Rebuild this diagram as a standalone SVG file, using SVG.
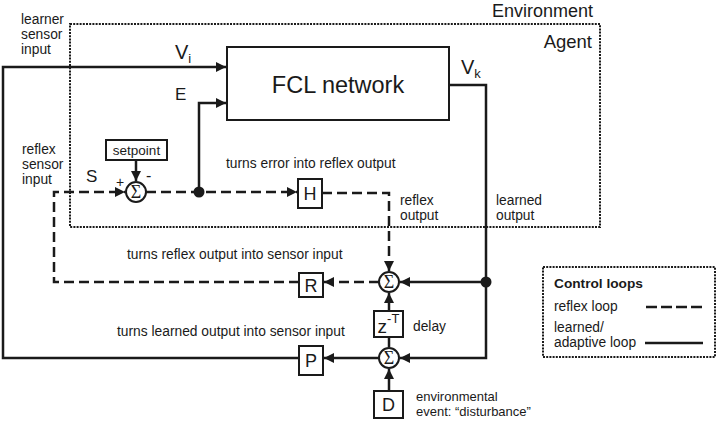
<svg xmlns="http://www.w3.org/2000/svg" width="718" height="421" viewBox="0 0 718 421">
<defs>
<marker id="ar" viewBox="0 0 10 10" refX="10" refY="5" markerWidth="11" markerHeight="10" markerUnits="userSpaceOnUse" orient="auto">
<path d="M0,0 L10,5 L0,10 z" fill="#1a1a1a"/>
</marker>
<style>
text{font-family:"Liberation Sans",Arial,sans-serif;fill:#1a1a1a}
.s{font-size:13.8px}
.dot{fill:none;stroke:#1a1a1a;stroke-width:2;stroke-dasharray:2 1.2}
.box{fill:#fff;stroke:#1a1a1a;stroke-width:2}
.ln{fill:none;stroke:#1a1a1a;stroke-width:2.5}
.da{fill:none;stroke:#1a1a1a;stroke-width:2.5;stroke-dasharray:10 5}
.sig{font-family:"Liberation Serif","Times New Roman",serif;font-size:18px;text-anchor:middle}
.bl{font-size:18px;text-anchor:middle}
</style>
</defs>
<rect width="718" height="421" fill="#fff"/>
<g id="environment">
<text x="593" y="17" font-size="18" text-anchor="end">Environment</text>
<rect id="agent-box" class="dot" x="70" y="24" width="530" height="203"/>
<text x="592" y="48" font-size="18.5" text-anchor="end">Agent</text>
</g>
<g id="labels">
<text class="s" x="21" y="24">learner</text>
<text class="s" x="21" y="39">sensor</text>
<text class="s" x="21" y="54">input</text>
<text class="s" x="22" y="154">reflex</text>
<text class="s" x="22" y="169">sensor</text>
<text class="s" x="22" y="184">input</text>
<text x="175" y="59" font-size="20">V<tspan font-size="13" dy="4">i</tspan></text>
<text x="175" y="100" font-size="17">E</text>
<text x="461" y="74" font-size="20">V<tspan font-size="13" dy="4">k</tspan></text>
<text x="86" y="182" font-size="17">S</text>
<text x="116" y="187" font-size="14">+</text>
<text x="146" y="181" font-size="16">-</text>
<text class="s" x="226" y="168">turns error into reflex output</text>
<text class="s" x="400" y="205">reflex</text>
<text class="s" x="400" y="220">output</text>
<text class="s" x="496" y="205">learned</text>
<text class="s" x="496" y="220">output</text>
<text class="s" x="127" y="259">turns reflex output into sensor input</text>
<text class="s" x="117" y="336">turns learned output into sensor input</text>
<text class="s" x="413" y="331">delay</text>
<text x="416" y="401" font-size="13">environmental</text>
<text x="416" y="416" font-size="13">event: “disturbance”</text>
</g>
<g id="connectors">
<path class="ln" d="M299,358 H3 V67 H226" marker-end="url(#ar)"/>
<path class="ln" d="M199,192 V103 H226" marker-end="url(#ar)"/>
<path class="ln" d="M449,85 H486 V358 H400" marker-end="url(#ar)"/>
<path class="ln" d="M486,282 H400" marker-end="url(#ar)"/>
<path class="ln" d="M136,160 V181" marker-end="url(#ar)"/>
<path class="da" d="M299,282 H54 V192 H125" marker-end="url(#ar)"/>
<path class="da" d="M146,192 H297" marker-end="url(#ar)"/>
<path class="da" d="M322,193 H389 V271" marker-end="url(#ar)"/>
<path class="da" d="M379,282 H324" marker-end="url(#ar)"/>
<path class="ln" d="M389,311 V293" marker-end="url(#ar)"/>
<path class="ln" d="M389,347 V338"/>
<path class="ln" d="M389,391 V369" marker-end="url(#ar)"/>
<path class="ln" d="M379,358 H324" marker-end="url(#ar)"/>
<circle cx="199" cy="192" r="5.5" fill="#1a1a1a"/>
<circle cx="486" cy="282" r="5.5" fill="#1a1a1a"/>
</g>
<g id="fcl">
<rect class="box" x="227" y="47" width="222" height="73"/>
<text x="338" y="93" font-size="23.5" text-anchor="middle">FCL network</text>
</g>
<g id="setpoint">
<rect class="box" x="106" y="140" width="61" height="20"/>
<text x="136.5" y="155" font-size="13.5" text-anchor="middle">setpoint</text>
</g>
<g id="sum1">
<circle class="box" cx="136" cy="192" r="10"/>
<text class="sig" x="136" y="198">Σ</text>
</g>
<g id="H">
<rect class="box" x="298" y="179" width="24" height="29"/>
<text class="bl" x="310" y="200">H</text>
</g>
<g id="sum2">
<circle class="box" cx="389" cy="282" r="10"/>
<text class="sig" x="389" y="288">Σ</text>
</g>
<g id="R">
<rect class="box" x="299" y="273" width="24" height="24"/>
<text class="bl" x="311" y="291.5">R</text>
</g>
<g id="delay">
<rect class="box" x="374" y="311" width="29" height="26"/>
<text x="388.5" y="333" font-size="19" text-anchor="middle">z<tspan font-size="13" dy="-10">-T</tspan></text>
</g>
<g id="sum3">
<circle class="box" cx="389" cy="358" r="10"/>
<text class="sig" x="389" y="364">Σ</text>
</g>
<g id="P">
<rect class="box" x="299" y="346" width="24" height="29"/>
<text class="bl" x="311" y="367">P</text>
</g>
<g id="D">
<rect class="box" x="374" y="391" width="29" height="27"/>
<text class="bl" x="388.5" y="411">D</text>
</g>
<g id="legend">
<rect class="dot" x="543" y="267" width="172" height="90"/>
<text x="554" y="288" font-size="13.7" font-weight="bold">Control loops</text>
<text class="s" x="554" y="311">reflex loop</text>
<text class="s" x="554" y="332">learned/</text>
<text class="s" x="554" y="347">adaptive loop</text>
<path class="da" d="M646,307 H703" style="stroke-dasharray:11 4"/>
<path class="ln" d="M645,343 H703"/>
</g>
</svg>
